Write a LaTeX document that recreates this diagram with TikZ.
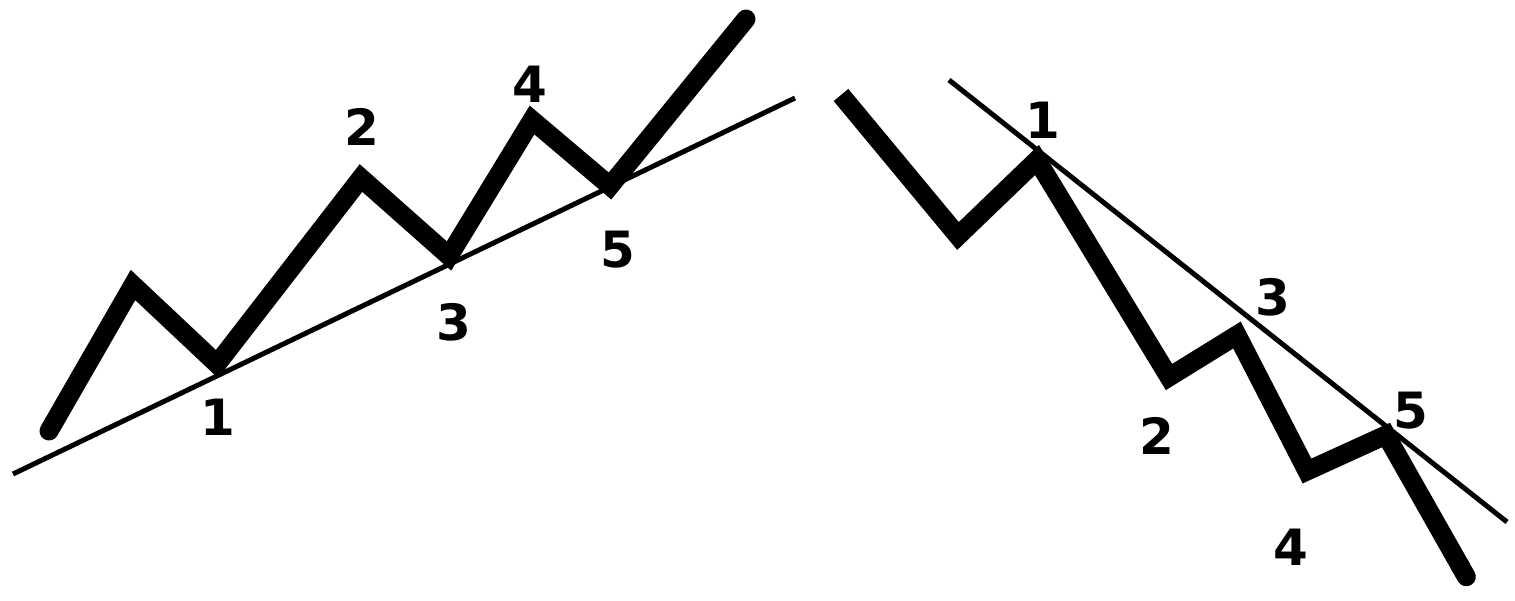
\documentclass[tikz,border=0pt]{standalone}
\usepackage{fontspec}
\setmainfont{DejaVu Sans}
\usetikzlibrary{arrows.meta}
\begin{document}
\begin{tikzpicture}[x=1pt,y=-1pt,
  wave/.style={line width=19pt,line join=miter,miter limit=2},
  trend/.style={line width=5pt},
  lbl/.style={font=\fontsize{50}{50}\selectfont\bfseries,inner sep=0pt}]
\useasboundingbox (0,0) rectangle (1515,600);
% left: uptrend
\coordinate (la) at (49,431);
\coordinate (lb) at (133,285);
\coordinate (lc) at (217,364);
\coordinate (ld) at (361,178);
\coordinate (le) at (449,256);
\coordinate (lf) at (532,120);
\coordinate (lg) at (610,186);
\coordinate (lh) at (746,19);
\coordinate (lt1) at (13,474);
\coordinate (lt2) at (795,98);
\draw[trend] (lt1) -- (lt2);
\draw[wave,line cap=round] (la) -- (lb) -- (lc) -- (ld) -- (le) -- (lf) -- (lg) -- (lh);
\node[lbl] (l1) at (218,417) {1};
\node[lbl] (l2) at (362,127) {2};
\node[lbl] (l3) at (454,322) {3};
\node[lbl] (l4) at (530,84) {4};
\node[lbl] (l5) at (618,250) {5};
% right: downtrend
\coordinate (ra) at (841,95);
\coordinate (rb) at (958,236);
\coordinate (rc) at (1037,160);
\coordinate (rd) at (1169,377);
\coordinate (re) at (1237,335);
\coordinate (rf) at (1307,471);
\coordinate (rg) at (1386,435);
\coordinate (rh) at (1471,585);
\coordinate (rt1) at (949,80);
\coordinate (rt2) at (1507,522);
\draw[trend] (rt1) -- (rt2);
\draw[wave,line cap=butt,-{Round Cap[]}] (ra) -- (rb) -- (rc) -- (rd) -- (re) -- (rf) -- (rg) -- (rh);
\node[lbl] (r1) at (1043,120) {1};
\node[lbl] (r3) at (1273,297) {3};
\node[lbl] (r5) at (1411,411) {5};
\node[lbl] (r2) at (1157,436) {2};
\node[lbl] (r4) at (1291,547) {4};
\end{tikzpicture}
\end{document}
